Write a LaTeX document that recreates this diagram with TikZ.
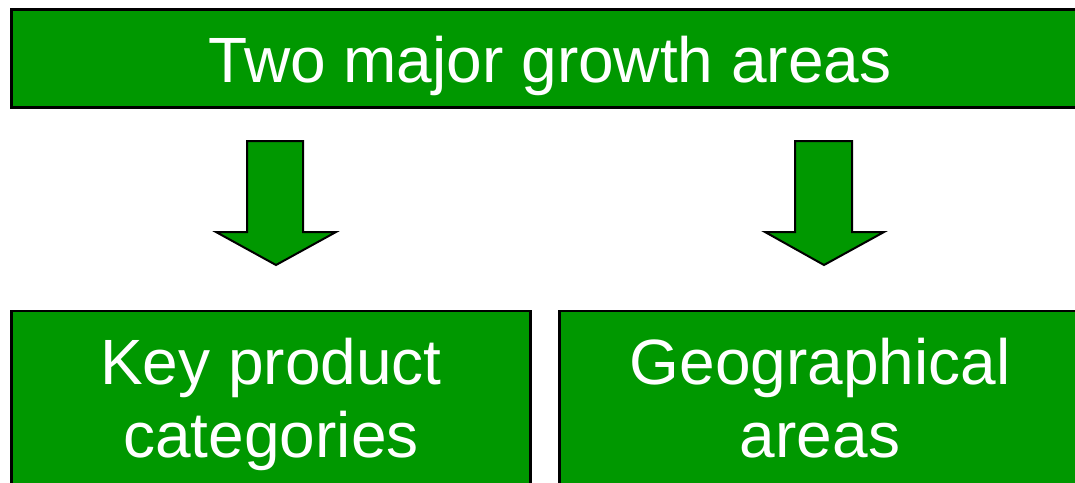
\documentclass[tikz,border=0pt]{standalone}
\usepackage{fontspec}
\setmainfont{Liberation Sans}
\definecolor{leaf}{RGB}{0,152,0}
\begin{document}
\begin{tikzpicture}[x=1pt,y=-1pt,
  box/.style={draw=black, fill=leaf, inner sep=0pt, outer sep=0pt},
  lbl/.style={text=white, font=\fontsize{64}{73}\selectfont, align=center, inner sep=0pt},
  blockarrow/.style={draw=black, fill=leaf, line width=2pt, line join=miter}]
\useasboundingbox (0,0) rectangle (1075,482);
\clip (0,0) rectangle (1075,482);

% heading bar
\node[box, line width=3pt, minimum width=1077.5pt, minimum height=97.5pt, anchor=north west]
  (head) at (11.5,9.5) {};
\node[lbl] (headtext) at (550,67.4) {\strut Two major growth areas};

% the two branches
\node[box, line width=2.5pt, minimum width=519pt, minimum height=200pt, anchor=north west]
  (prod) at (11.5,311) {};
\node[lbl] (prodtext) at (271,405.9) {\strut Key product\\\strut categories};

\node[box, line width=2.5pt, minimum width=521pt, minimum height=200pt, anchor=north west]
  (geo) at (559.5,311) {};
\node[lbl] (geotext) at (820,405.9) {\strut Geographical\\\strut areas};

% block arrows from the heading down to each branch
\draw[blockarrow] (247,141) -- (303,141) -- (303,232) -- (336,232) -- (276,265)
  -- (216,232) -- (247,232) -- cycle;
\draw[blockarrow] (795,141) -- (852,141) -- (852,232) -- (884,232) -- (824,265)
  -- (765,232) -- (795,232) -- cycle;
\end{tikzpicture}
\end{document}
